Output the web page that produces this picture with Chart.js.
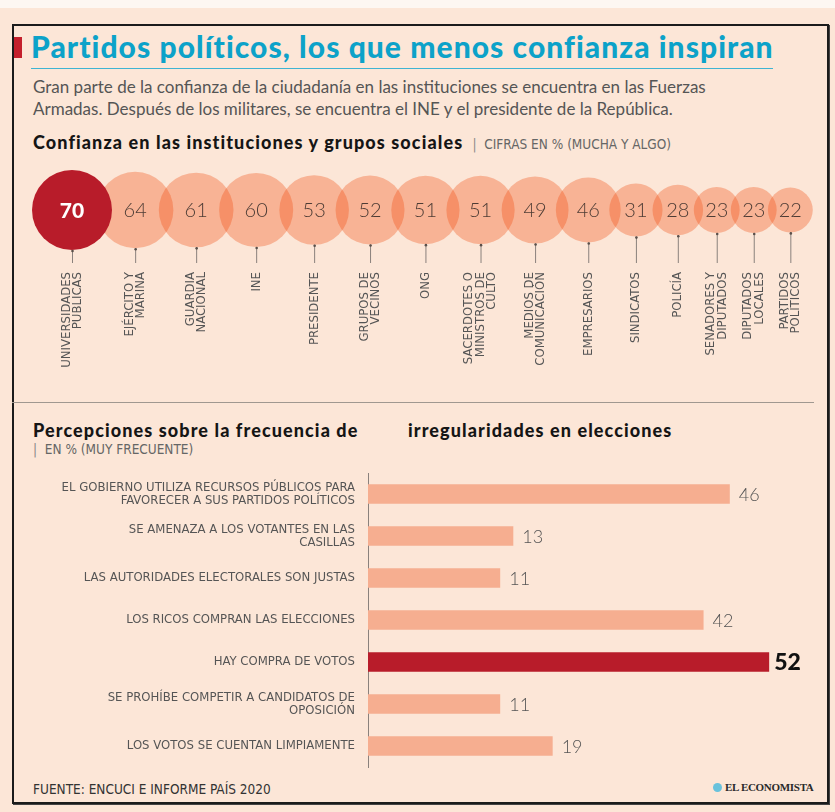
<!DOCTYPE html>
<html>
<head>
<meta charset="utf-8">
<title>Partidos políticos, los que menos confianza inspiran</title>
<script src="https://cdn.jsdelivr.net/npm/chart.js@4.4.1/dist/chart.umd.min.js"></script>
<style>
  html, body { margin: 0; padding: 0; background: #fce6d7; }
  #page { position: relative; width: 835px; height: 812px; overflow: hidden; background: #fce6d7; font-family: Lato, "Liberation Sans", sans-serif; }
  #topstrip { position: absolute; left: 0; top: 0; width: 835px; height: 8px; background: #fdf7f2; }
  #frame { position: absolute; left: 12px; top: 24px; width: 813px; height: 776px; border: 2px solid #1b1b1b; box-shadow: 1px 1px 0 #444; }
  .abs { position: absolute; white-space: nowrap; }
  #redbar { left: 14px; top: 37px; width: 8px; height: 21px; background: #c41f2c; }
  #title { left: 31px; top: 28px; font-size: 30px; font-weight: 900; color: #0ca2c9; letter-spacing: 1.05px; }
  #titleline { left: 31px; top: 68px; width: 742px; height: 1px; background: #3fb4d2; }
  #subtitle { left: 33px; top: 76px; font-size: 17px; line-height: 22px; color: #555; }
  .head { font-size: 18px; font-weight: 900; color: #151515; letter-spacing: 1.1px; }
  .unit { font-family: "Liberation Sans Narrow", "DejaVu Sans Condensed", sans-serif; font-size: 13.5px; color: #666; font-weight: 400; letter-spacing: 0; }
  .pipe { color: #888; }
  #sep { left: 12px; top: 402px; width: 802px; height: 1px; background: #a09890; }
  #source { left: 33px; top: 781px; font-family: "Liberation Sans Narrow", "DejaVu Sans Condensed", sans-serif; font-size: 13.5px; color: #333; }
  #brand { left: 713px; top: 781px; font-family: "Liberation Serif", serif; font-weight: bold; font-size: 11px; color: #2a2a2a; letter-spacing: -0.3px; }
  #brand span { display: inline-block; width: 9px; height: 9px; border-radius: 50%; background: #69c2dc; margin-right: 3px; vertical-align: -1px; }
  #bubbleBox { position: absolute; left: 0; top: 160px; width: 835px; height: 240px; }
  #barBox { position: absolute; left: 0; top: 460px; width: 835px; height: 320px; }
</style>
</head>
<body>
<div id="page">
  <div id="topstrip"></div>
  <div id="frame"></div>
  <div class="abs" id="redbar"></div>
  <div class="abs" id="title">Partidos políticos, los que menos confianza inspiran</div>
  <div class="abs" id="titleline"></div>
  <div class="abs" id="subtitle">Gran parte de la confianza de la ciudadanía en las instituciones se encuentra en las Fuerzas<br>Armadas. Después de los militares, se encuentra el INE y el presidente de la República.</div>
  <div class="abs head" style="left:33px;top:131px;">Confianza en las instituciones y grupos sociales <span class="unit">&nbsp;<span class="pipe">|</span>&nbsp; CIFRAS EN % (MUCHA Y ALGO)</span></div>

  <div id="bubbleBox"><canvas id="confChart"></canvas></div>

  <div class="abs" id="sep"></div>
  <div class="abs head" style="left:33px;top:419px;">Percepciones sobre la frecuencia de</div>
  <div class="abs head" style="left:408px;top:419px;">irregularidades en elecciones</div>
  <div class="abs unit" style="left:33px;top:441px;"><span class="pipe">|</span>&nbsp; EN % (MUY FRECUENTE)</div>

  <div id="barBox"><canvas id="irregChart"></canvas></div>

  <div class="abs" id="source">FUENTE: ENCUCI E INFORME PAÍS 2020</div>
  <div class="abs" id="brand"><span></span>EL ECONOMISTA</div>
</div>

<script>
// confianza en instituciones (% mucha y algo)
const institutions = [
  ['UNIVERSIDADES', 'PUBLICAS'], ['EJÉRCITO Y', 'MARINA'], ['GUARDIA', 'NACIONAL'], ['INE'],
  ['PRESIDENTE'], ['GRUPOS DE', 'VECINOS'], ['ONG'], ['SACERDOTES O', 'MINISTROS DE', 'CULTO'],
  ['MEDIOS DE', 'COMUNICACIÓN'], ['EMPRESARIOS'], ['SINDICATOS'], ['POLICÍA'],
  ['SENADORES Y', 'DIPUTADOS'], ['DIPUTADOS', 'LOCALES'], ['PARTIDOS', 'POLÍTICOS']
];
const confianza = [70, 64, 61, 60, 53, 52, 51, 51, 49, 46, 31, 28, 23, 23, 22];
const confHighlight = 0;

// percepciones sobre irregularidades (% muy frecuente)
const irregularidades = [
  ['EL GOBIERNO UTILIZA RECURSOS PÚBLICOS PARA', 'FAVORECER A SUS PARTIDOS POLÍTICOS'],
  ['SE AMENAZA A LOS VOTANTES EN LAS', 'CASILLAS'],
  'LAS AUTORIDADES ELECTORALES SON JUSTAS',
  'LOS RICOS COMPRAN LAS ELECCIONES',
  'HAY COMPRA DE VOTOS',
  ['SE PROHÍBE COMPETIR A CANDIDATOS DE', 'OPOSICIÓN'],
  'LOS VOTOS SE CUENTAN LIMPIAMENTE'
];
const frecuencia = [46, 13, 11, 42, 52, 11, 19];
const irregHighlight = 4;

// colours
const salmon = 'rgba(238, 70, 10, 0.32)';
const barSalmon = '#f6ae90';
const darkRed = '#b81c2a';
const narrow = '"Liberation Sans Narrow", "DejaVu Sans Condensed", sans-serif';

// bubble size: area proportional, biggest = 40px radius
const maxR = 40;
const radius = v => maxR * Math.sqrt(v / confianza[0]);

// bubbles sit side by side, overlapping a bit
const xPos = [];
confianza.forEach((v, i) => {
  if (i === 0) xPos.push(72);
  else xPos.push(xPos[i - 1] + 0.807 * (radius(confianza[i - 1]) + radius(v)));
});

const points = confianza.map((v, i) => ({ x: xPos[i], y: 0, r: radius(v), idx: i }));

// numbers, ticks and rotated labels for the bubbles
const bubbleLabels = {
  id: 'bubbleLabels',
  afterDatasetsDraw(chart) {
    const c = chart.ctx;
    const xs = chart.scales.x, ys = chart.scales.y;
    c.save();
    confianza.forEach((v, i) => {
      const px = xs.getPixelForValue(xPos[i]);
      const py = ys.getPixelForValue(0);
      const r = radius(v);

      // value inside bubble
      c.textAlign = 'center';
      c.textBaseline = 'middle';
      if (i === confHighlight) {
        c.font = '900 21px Lato, "Liberation Sans", sans-serif';
        c.fillStyle = '#ffffff';
      } else {
        c.font = '300 20px Lato, "Liberation Sans", sans-serif';
        c.fillStyle = '#4d3c35';
      }
      c.fillText(String(v), px, py + 1);

      // tick line
      c.strokeStyle = '#8a817c';
      c.lineWidth = 1;
      c.beginPath();
      c.moveTo(px + 0.5, py + r);
      c.lineTo(px + 0.5, py + 53);
      c.stroke();
      c.fillStyle = '#5a4f4a';
      c.beginPath();
      c.arc(px + 0.5, py + r + 1, 1.3, 0, Math.PI * 2);
      c.fill();

      // label, rotated
      const lines = institutions[i];
      const lh = 11.5;
      c.save();
      c.translate(px, py + 62);
      c.rotate(-Math.PI / 2);
      c.textAlign = 'right';
      c.textBaseline = 'middle';
      c.font = '13px ' + narrow;
      c.fillStyle = '#555';
      lines.forEach((ln, j) => {
        c.fillText(ln, 0, (j - (lines.length - 1) / 2) * lh);
      });
      c.restore();
    });
    c.restore();
  }
};

new Chart(document.getElementById('confChart'), {
  type: 'bubble',
  data: {
    datasets: [
      {
        label: 'destacado',
        data: points.filter(p => p.idx === confHighlight),
        backgroundColor: darkRed,
        borderWidth: 0,
        order: 0,
        clip: false
      },
      {
        label: 'confianza',
        data: points.filter(p => p.idx !== confHighlight),
        backgroundColor: salmon,
        borderWidth: 0,
        order: 1,
        clip: false
      }
    ]
  },
  options: {
    responsive: true,
    maintainAspectRatio: false,
    animation: false,
    layout: { autoPadding: false, padding: { left: 0, right: 0, top: 0, bottom: 140 } },
    plugins: { legend: { display: false }, tooltip: { enabled: false } },
    scales: {
      x: { type: 'linear', min: 0, max: 835, display: false },
      y: { type: 'linear', min: -1, max: 1, display: false }
    }
  },
  plugins: [bubbleLabels]
});

// value labels at the end of the bars
const barValues = {
  id: 'barValues',
  afterDatasetsDraw(chart) {
    const c = chart.ctx;
    const meta = chart.getDatasetMeta(0);
    c.save();
    c.textBaseline = 'middle';
    c.textAlign = 'left';
    meta.data.forEach((bar, i) => {
      if (i === irregHighlight) {
        c.font = '900 23px Lato, "Liberation Sans", sans-serif';
        c.fillStyle = '#111';
        c.fillText(String(frecuencia[i]), bar.x + 5, bar.y + 1);
      } else {
        c.font = '300 18px Lato, "Liberation Sans", sans-serif';
        c.fillStyle = '#555';
        c.fillText(String(frecuencia[i]), bar.x + 9, bar.y + 1);
      }
    });
    c.restore();
  }
};

new Chart(document.getElementById('irregChart'), {
  type: 'bar',
  data: {
    labels: irregularidades,
    datasets: [{
      label: 'Muy frecuente',
      data: frecuencia,
      base: -9.15,
      backgroundColor: frecuencia.map((v, i) => i === irregHighlight ? darkRed : barSalmon),
      borderWidth: 0,
      barPercentage: 0.46,
      categoryPercentage: 1
    }]
  },
  options: {
    indexAxis: 'y',
    responsive: true,
    maintainAspectRatio: false,
    animation: false,
    layout: { autoPadding: false, padding: { left: 0, right: 35, top: 13, bottom: 13 } },
    plugins: { legend: { display: false }, tooltip: { enabled: false } },
    scales: {
      x: { type: 'linear', min: -9.15, max: 56.7, display: false },
      y: {
        afterFit: s => { s.width = 368; s.paddingTop = 0; s.paddingBottom = 0; },
        grid: { display: false, drawTicks: false },
        border: { display: true, color: '#8a817c', width: 1 },
        ticks: {
          padding: 13,
          color: '#555',
          font: { family: narrow, size: 13, lineHeight: 1.05 }
        }
      }
    }
  },
  plugins: [barValues]
});
</script>
</body>
</html>
